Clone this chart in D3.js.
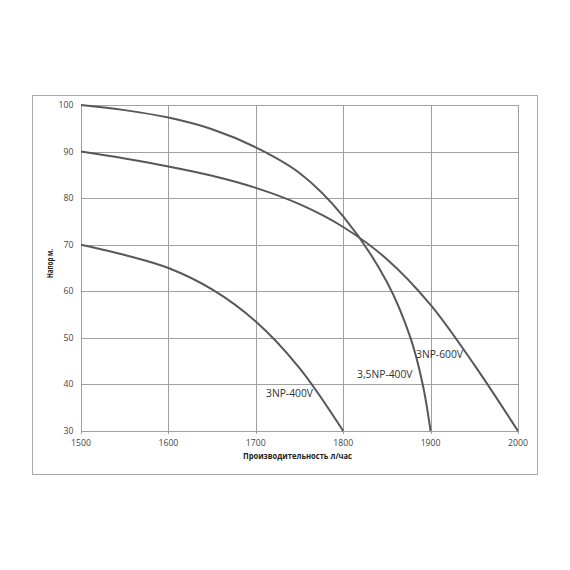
<!DOCTYPE html>
<html><head><meta charset="utf-8">
<script src="https://cdn.jsdelivr.net/npm/d3@7"></script>
<style>body{margin:0;background:#fff}</style>
</head><body>
<svg id="c" width="570" height="570"></svg>
<script>
const xTicks = [1500, 1600, 1700, 1800, 1900, 2000];
const yTicks = [30, 40, 50, 60, 70, 80, 90, 100];
const flow3NP400 = [1500, 1550, 1600, 1650, 1700, 1750, 1800];
const head3NP400 = [70, 67.8, 65, 60.4, 53.5, 43.5, 30];
const flow35NP400 = [1500, 1550, 1600, 1650, 1700, 1750, 1800, 1850, 1877, 1891, 1900];
const head35NP400 = [100, 98.9, 97.3, 94.8, 90.9, 85.4, 76.1, 62, 50, 40, 30];
const flow3NP600 = [1500, 1550, 1600, 1650, 1700, 1750, 1800, 1850, 1900, 1950, 2000];
const head3NP600 = [90, 88.5, 86.8, 84.8, 82.2, 78.7, 73.8, 66.9, 57.1, 44.2, 30];
const seriesNames = ["3NP-400V", "3,5NP-400V", "3NP-600V"];
const xTitle = "Производительность  л/час";
const yTitle = "Напор м.";

const svg = d3.select("#c");
const L = 81, R = 518, T = 105, B = 431;
const x = d3.scaleLinear().domain([1500, 2000]).range([L, R]);
const y = d3.scaleLinear().domain([30, 100]).range([B, T]);

svg.append("rect").attr("x", 32.5).attr("y", 95.5).attr("width", 505).attr("height", 379)
  .attr("fill", "none").attr("stroke", "#aaa").attr("stroke-width", 1);

const grid = svg.append("g").attr("stroke", "#a0a0a0").attr("stroke-width", 1);
yTicks.forEach(v => grid.append("line").attr("x1", L).attr("x2", R).attr("y1", Math.round(y(v)) + 0.5).attr("y2", Math.round(y(v)) + 0.5));
xTicks.forEach(v => grid.append("line").attr("x1", Math.round(x(v)) + 0.5).attr("x2", Math.round(x(v)) + 0.5).attr("y1", T).attr("y2", B + 3));

const tf = "'Open Sans', 'Liberation Sans', sans-serif";
svg.append("g").selectAll("text").data(yTicks).join("text")
  .attr("x", L - 7.5).attr("y", d => y(d) + 3).attr("text-anchor", "end")
  .attr("font-family", tf).attr("font-size", 8.7).attr("fill", "#444").text(d => d);
svg.append("g").selectAll("text").data(xTicks).join("text")
  .attr("x", d => x(d)).attr("y", B + 15).attr("text-anchor", "middle")
  .attr("font-family", tf).attr("font-size", 8.7).attr("fill", "#444").text(d => d);

svg.append("text").attr("x", 243).attr("y", 459).attr("font-family", tf).attr("font-weight", "bold")
  .attr("font-size", 8.5).attr("fill", "#222")
  .attr("textLength", 109).attr("lengthAdjust", "spacingAndGlyphs").text(xTitle);
svg.append("text").attr("transform", "translate(52.5,263.5) rotate(-90)").attr("text-anchor", "middle")
  .attr("font-family", tf).attr("font-weight", "bold").attr("font-size", 8).attr("fill", "#222")
  .attr("textLength", 29).attr("lengthAdjust", "spacingAndGlyphs").text(yTitle);

const line = d3.line().x(d => x(d[0])).y(d => y(d[1])).curve(d3.curveCatmullRom.alpha(0.5));
const series = [
  d3.zip(flow3NP400, head3NP400),
  d3.zip(flow35NP400, head35NP400),
  d3.zip(flow3NP600, head3NP600)
];
svg.append("g").selectAll("path").data(series).join("path")
  .attr("d", line).attr("fill", "none").attr("stroke", "#585858").attr("stroke-width", 2);

const labelPos = [[266, 397], [357, 378], [416, 358]];
svg.append("g").selectAll("text").data(seriesNames).join("text")
  .attr("x", (d, i) => labelPos[i][0]).attr("y", (d, i) => labelPos[i][1])
  .attr("font-family", tf).attr("font-size", 10.3).attr("fill", "#333").text(d => d);
</script>
</body></html>
